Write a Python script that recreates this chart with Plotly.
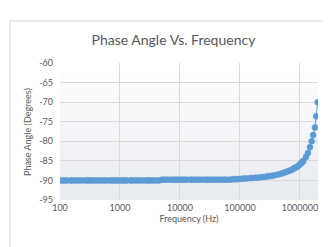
import plotly.graph_objects as go

# ---- data ----
freq_low = [100, 110, 120, 130, 150, 160, 180, 200, 220, 250, 280, 300, 330, 360, 400, 450, 500, 550, 600, 680, 750, 820, 900,
            1000, 1100, 1200, 1300, 1500, 1600, 1800, 2000, 2200, 2500, 2800, 3000, 3300, 3600, 4000, 4500]
phase_low = [-90.0, -90.0, -90.0, -90.0, -90.0, -90.0, -90.0, -90.0, -90.0, -90.0, -90.0, -90.0, -90.0, -90.0,
             -90.0, -90.0, -90.0, -90.0, -90.0, -90.0, -90.0, -90.0, -90.0,
             -90.0, -90.0, -90.0, -90.0, -90.0, -90.0, -90.0, -90.0, -90.0, -90.0, -90.0, -90.0, -90.0, -90.0, -90.0, -90.0]

freq_mid = [5000, 5500, 6000, 6800, 7500, 8200, 9000,
            10000, 11000, 12000, 13000, 15000, 16000, 18000, 20000, 22000, 25000, 28000, 30000, 33000, 36000, 40000,
            45000, 50000, 55000, 60000, 68000, 75000, 82000, 90000]
phase_mid = [-89.8, -89.8, -89.8, -89.8, -89.8, -89.8, -89.8,
             -89.8, -89.8, -89.8, -89.8, -89.8, -89.8, -89.8, -89.8, -89.8, -89.8, -89.8, -89.8, -89.8, -89.8, -89.8,
             -89.8, -89.8, -89.8, -89.8, -89.8, -89.7, -89.7, -89.7]

freq_high = [100000, 110000, 120000, 130000, 150000, 160000, 180000, 200000, 220000, 250000, 280000, 300000, 330000,
             360000, 400000, 450000, 500000, 550000, 600000, 650000, 700000, 750000, 800000, 850000, 900000, 950000,
             1000000, 1050000, 1100000, 1140000, 1260000, 1360000, 1470000, 1570000, 1660000, 1780000, 1860000, 1970000]
phase_high = [-89.6, -89.6, -89.5, -89.5, -89.4, -89.4, -89.3, -89.3, -89.2, -89.1, -89.0, -88.95, -88.85,
              -88.75, -88.6, -88.4, -88.2, -88.0, -87.8, -87.6, -87.4, -87.2, -86.9, -86.7, -86.5, -86.2,
              -85.9, -85.6, -85.3, -85.0, -84.0, -83.0, -81.5, -80.0, -78.4, -76.5, -73.6, -70.0]

x_tickvals = [100, 1000, 10000, 100000, 1000000]
x_ticktext = ["100", "1000", "10000", "100000", "1000000"]
y_tickvals = [-95, -90, -85, -80, -75, -70, -65, -60]
y_ticktext = ["-95", "-90", "-85", "-80", "-75", "-70", "-65", "-60"]

frequency_hz = freq_low + freq_mid + freq_high
phase_deg = phase_low + phase_mid + phase_high
assert len(frequency_hz) == len(phase_deg)

BLUE = "#5B9BD5"
GREY_TXT = "#595959"
FONT = "Lato"

fig = go.Figure()
fig.add_trace(go.Scatter(
    x=frequency_hz, y=phase_deg, mode="lines+markers",
    line=dict(color=BLUE, width=1),
    marker=dict(color=BLUE, size=6, line=dict(color=BLUE, width=0.5)),
    showlegend=False,
))

# plot-area gradient background (white at top -> light grey at bottom)
nb = 14
for i in range(nb):
    t = i / (nb - 1)
    r = int(255 + (232 - 255) * t)
    g = int(255 + (235 - 255) * t)
    b = int(255 + (240 - 255) * t)
    y1 = -60 - 35 * i / nb
    y0 = -60 - 35 * (i + 1) / nb
    fig.add_shape(type="rect", xref="paper", yref="y", x0=0, x1=1, y0=y0, y1=y1,
                  fillcolor=f"rgb({r},{g},{b})", line=dict(width=0), layer="below")

# chart-area border
fig.add_shape(type="rect", xref="paper", yref="paper",
              x0=-0.194, x1=1.089, y0=-0.350, y1=1.307,
              line=dict(color="#d9d9d9", width=1), fillcolor="rgba(0,0,0,0)", layer="below")

# y-axis title placed as an annotation
fig.add_annotation(text="Phase Angle (Degrees)", textangle=-90, showarrow=False,
                   xref="paper", yref="paper", x=(20 - 52) / 258, y=0.5 + (123.5 - 124) / 137,
                   xanchor="center", yanchor="middle",
                   font=dict(family=FONT, size=9, color=GREY_TXT))

fig.update_layout(
    width=331, height=247,
    margin=dict(l=52, r=21, t=55, b=55),
    paper_bgcolor="white", plot_bgcolor="white",
    font=dict(family=FONT, color=GREY_TXT, size=9),
    title=dict(text="Phase Angle Vs. Frequency", x=0.5, xref="container", xanchor="center",
               y=1 - 32 / 247, yref="container", yanchor="middle",
               font=dict(family=FONT, size=14, color=GREY_TXT)),
)
fig.update_xaxes(
    type="log", range=[2, 6.301],
    tickvals=x_tickvals, ticktext=x_ticktext,
    showgrid=True, gridcolor="#d9d9d9", gridwidth=1,
    zeroline=False, showline=False, ticks="", ticklabelstandoff=1,
    tickfont=dict(size=9, color=GREY_TXT),
    title=dict(text="Frequency (Hz)", font=dict(size=9, color=GREY_TXT), standoff=3),
)
fig.update_yaxes(
    range=[-95, -60], tickvals=y_tickvals, ticktext=y_ticktext,
    showgrid=True, gridcolor="#d9d9d9", gridwidth=1,
    zeroline=False, showline=False, ticks="", ticklabelstandoff=6,
    tickfont=dict(size=9, color=GREY_TXT),
)

fig.write_html("out.html")
